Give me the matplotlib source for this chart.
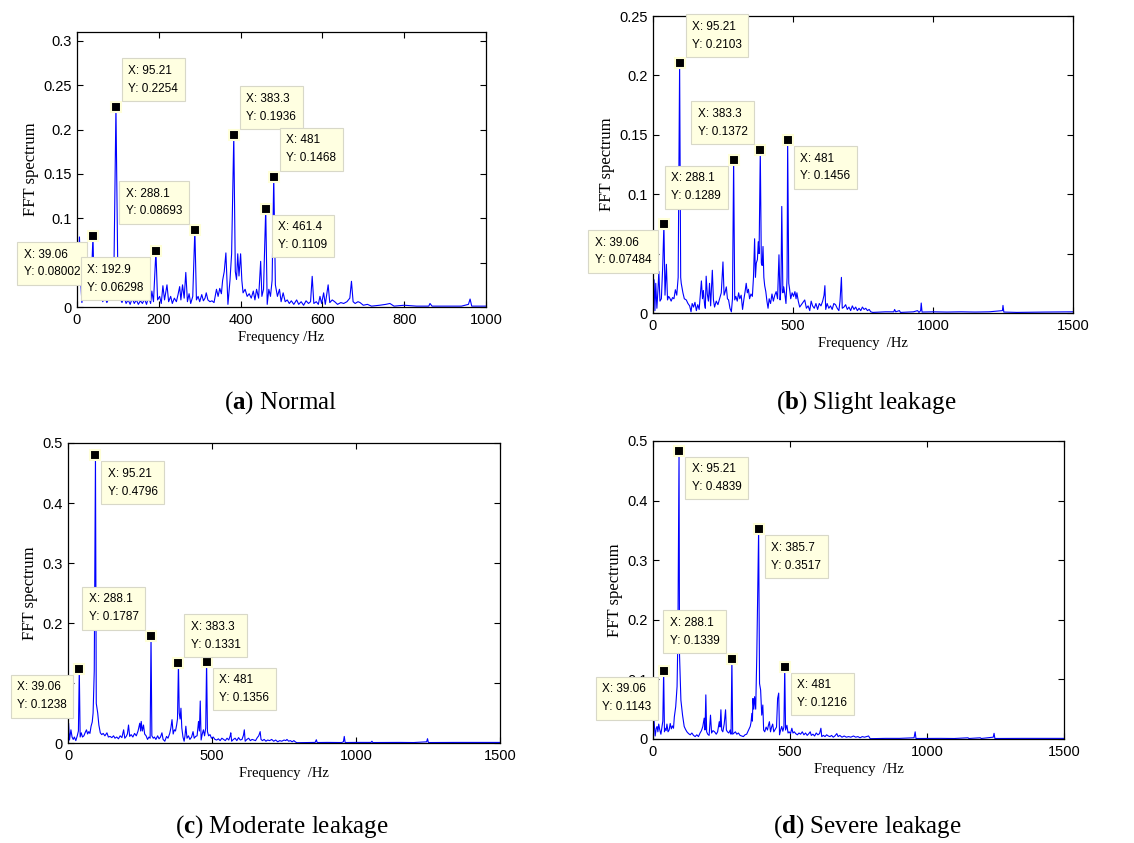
import matplotlib
matplotlib.use("Agg")
import matplotlib.pyplot as plt
from matplotlib.ticker import FuncFormatter

plt.rcParams["mathtext.fontset"] = "custom"
plt.rcParams["mathtext.rm"] = "Liberation Serif"
plt.rcParams["mathtext.bf"] = "Liberation Serif:bold"

# ---- spectrum (a) Normal ----
freq_a = [0, 3, 6, 9, 12, 15, 20, 25, 30, 34, 39.06, 42, 48, 53, 58, 63, 68, 73, 78, 84, 90, 95.21,
          100, 105, 110, 115, 120, 125, 130, 135, 140, 145, 150, 155, 160, 165, 170, 175, 180, 183, 187,
          192.9, 197, 202, 206, 210, 214, 220, 224, 229, 233, 238, 243, 247, 251, 254, 258, 262, 266, 270,
          274, 278, 283, 288.1, 292, 296, 300, 305, 309, 313, 316, 320, 325, 330, 335, 341, 345, 349, 353,
          356, 360, 364, 369, 374, 378, 383.3, 387, 390, 393, 396, 400, 403, 406, 411, 416, 421, 426, 431,
          435, 439, 444, 449, 452, 456, 461.4, 465, 469, 473, 477, 481, 485, 490, 495, 499, 504, 509, 514,
          519, 524, 530, 537, 542, 548, 554, 560, 566, 571, 575, 579, 585, 590, 594, 598, 603, 607, 614,
          618, 624, 630, 637, 645, 652, 660, 667, 671, 675, 680, 687, 692, 700, 710, 720, 740, 755, 765,
          775, 800, 830, 860, 863, 868, 900, 940, 957, 961, 965, 1000]
amp_a = [0.020, 0.045, 0.079, 0.030, 0.005, 0.020, 0.012, 0.015, 0.010, 0.018, 0.08002, 0.012, 0.020,
         0.008, 0.015, 0.006, 0.012, 0.005, 0.010, 0.008, 0.030, 0.2254,
         0.030, 0.010, 0.005, 0.012, 0.004, 0.008, 0.003, 0.010, 0.004, 0.008, 0.003, 0.007, 0.004, 0.009,
         0.003, 0.012, 0.004, 0.018, 0.006,
         0.06298, 0.008, 0.012, 0.004, 0.024, 0.008, 0.025, 0.006, 0.012, 0.004, 0.010, 0.006, 0.014, 0.023,
         0.008, 0.025, 0.010, 0.039, 0.006,
         0.015, 0.004, 0.012, 0.08693, 0.008, 0.012, 0.006, 0.014, 0.007, 0.010, 0.016, 0.008, 0.006, 0.007,
         0.005, 0.020, 0.012, 0.021, 0.015,
         0.030, 0.040, 0.061, 0.003, 0.030, 0.060, 0.1936, 0.040, 0.031, 0.060, 0.035, 0.060, 0.030, 0.016,
         0.020, 0.012, 0.015, 0.010, 0.018,
         0.008, 0.020, 0.010, 0.0515, 0.012, 0.020, 0.1109, 0.003, 0.020, 0.012, 0.030, 0.1468, 0.025, 0.012,
         0.020, 0.006, 0.016, 0.006, 0.008,
         0.004, 0.007, 0.003, 0.008, 0.003, 0.006, 0.002, 0.007, 0.004, 0.006, 0.0346, 0.004, 0.006, 0.003,
         0.012, 0.004, 0.016, 0.003, 0.025,
         0.005, 0.008, 0.006, 0.003, 0.005, 0.004, 0.006, 0.010, 0.029, 0.006, 0.004, 0.006, 0.005, 0.002,
         0.003, 0.001, 0.002, 0.003, 0.004,
         0.001, 0.002, 0.001, 0.001, 0.004, 0.001, 0.001, 0.001, 0.003, 0.009, 0.001, 0.001]
peak_x_a = [39.06, 95.21, 192.9, 288.1, 383.3, 461.4, 481]
peak_y_a = [0.08002, 0.2254, 0.06298, 0.08693, 0.1936, 0.1109, 0.1468]

# ---- spectrum (b) Slight leakage ----
freq_b = [0, 4, 7, 10, 14, 18, 21, 25, 30, 35, 39.06, 43, 48, 52, 56, 60, 65, 70, 75, 80, 85, 90, 95.21,
          99, 101, 105, 107, 112, 119, 125, 131, 136, 140, 145, 150, 155, 160, 165, 169, 173, 177, 180, 184,
          187, 190, 194, 198, 202, 206, 212, 216, 220, 226, 232, 238, 244, 250, 254, 258, 262, 266, 270, 275,
          280, 284, 288.1, 292, 296, 301, 306, 310, 315, 320, 325, 329, 333, 337, 341, 345, 350, 355, 359,
          363, 366, 369, 373, 376, 379, 383.3, 387, 390, 393, 396, 399, 403, 407, 411, 415, 420, 425, 430,
          435, 440, 445, 450, 454, 457, 460, 464, 467, 471, 475, 479, 481, 485, 488, 492, 497, 502, 507, 511,
          514, 519, 524, 530, 536, 542, 548, 554, 560, 565, 570, 576, 582, 588, 594, 600, 606, 611, 614, 617,
          622, 628, 634, 640, 646, 652, 658, 664, 668, 673, 676, 682, 688, 694, 700, 706, 712, 718, 724, 730,
          736, 742, 748, 754, 760, 766, 772, 778, 785, 830, 860, 863, 867, 880, 884, 930, 945, 950, 956, 958,
          961, 1000, 1050, 1100, 1150, 1200, 1248, 1250, 1253, 1300, 1400, 1500]
amp_b = [0.005, 0.028, 0.002, 0.025, 0.004, 0.020, 0.035, 0.010, 0.012, 0.040, 0.07484, 0.015, 0.041,
         0.011, 0.014, 0.0126, 0.010, 0.013, 0.012, 0.0196, 0.015, 0.030, 0.2103,
         0.030, 0.025, 0.020, 0.017, 0.012, 0.011, 0.008, 0.006, 0.001, 0.008, 0.005, 0.009, 0.002, 0.007,
         0.003, 0.015, 0.027, 0.012, 0.019, 0.008,
         0.004, 0.031, 0.016, 0.010, 0.025, 0.006, 0.036, 0.011, 0.005, 0.010, 0.007, 0.012, 0.017, 0.043,
         0.015, 0.018, 0.022, 0.012, 0.011, 0.004,
         0.001, 0.012, 0.1289, 0.011, 0.014, 0.010, 0.017, 0.012, 0.015, 0.003, 0.012, 0.018, 0.025, 0.017,
         0.020, 0.012, 0.016, 0.014, 0.030,
         0.0625, 0.030, 0.042, 0.045, 0.060, 0.050, 0.1372, 0.042, 0.040, 0.056, 0.030, 0.023, 0.018, 0.010,
         0.004, 0.012, 0.008, 0.016, 0.010,
         0.015, 0.018, 0.012, 0.049, 0.011, 0.020, 0.0897, 0.017, 0.022, 0.016, 0.008, 0.030, 0.1456, 0.025,
         0.020, 0.012, 0.017, 0.014, 0.018, 0.012,
         0.017, 0.010, 0.005, 0.007, 0.009, 0.011, 0.004, 0.006, 0.002, 0.010, 0.006, 0.004, 0.008, 0.003,
         0.008, 0.006, 0.010, 0.015, 0.023, 0.003,
         0.008, 0.004, 0.006, 0.003, 0.008, 0.007, 0.004, 0.002, 0.010, 0.030, 0.004, 0.005, 0.007, 0.003,
         0.005, 0.002, 0.006, 0.003, 0.005, 0.002,
         0.004, 0.002, 0.005, 0.003, 0.004, 0.002, 0.003, 0.001, 0.0005, 0.001, 0.001, 0.003, 0.001, 0.002,
         0.0005, 0.001, 0.002, 0.0005, 0.002, 0.0084,
         0.0008, 0.001, 0.0008, 0.001, 0.0008, 0.001, 0.002, 0.0064, 0.0008, 0.0005, 0.0008, 0.001]
peak_x_b = [39.06, 95.21, 288.1, 383.3, 481]
peak_y_b = [0.07484, 0.2103, 0.1289, 0.1372, 0.1456]

# ---- spectrum (c) Moderate leakage ----
freq_c = [0, 2, 5, 10, 14, 18, 22, 27, 32, 36, 39.06, 42, 46, 50, 55, 60, 64, 68, 72, 76, 80, 84, 87, 91,
          95.21, 98, 103, 107, 112, 117, 122, 128, 135, 140, 146, 152, 158, 163, 169, 175, 181, 187, 193, 197,
          202, 206, 210, 214, 219, 225, 231, 237, 243, 249, 252, 254, 258, 262, 266, 271, 276, 281, 285,
          288.1, 291, 296, 300, 305, 311, 316, 321, 326, 330, 336, 342, 347, 353, 357, 361, 365, 369, 373,
          377, 380, 383.3, 386, 389, 392, 395, 399, 403, 406, 409, 413, 418, 423, 429, 434, 438, 443, 448,
          453, 456, 459, 462, 466, 470, 474, 478, 481, 484, 488, 493, 498, 504, 510, 516, 522, 528, 534, 540,
          546, 552, 558, 563, 565, 568, 574, 580, 586, 592, 598, 604, 609, 612, 615, 621, 627, 633, 639, 645,
          651, 657, 662, 667, 670, 675, 681, 687, 693, 700, 707, 714, 721, 728, 735, 742, 750, 756, 760, 766,
          772, 778, 784, 789, 794, 850, 858, 862, 865, 900, 950, 956, 959, 962, 1000, 1052, 1055, 1058, 1150,
          1200, 1245, 1248, 1251, 1350, 1500]
amp_c = [0.010, 0.033, 0.005, 0.022, 0.010, 0.006, 0.010, 0.004, 0.012, 0.020, 0.1238, 0.010, 0.017,
         0.010, 0.012, 0.018, 0.022, 0.015, 0.019, 0.016, 0.028, 0.035, 0.050, 0.120,
         0.4796, 0.066, 0.050, 0.030, 0.017, 0.014, 0.016, 0.012, 0.017, 0.010, 0.011, 0.009, 0.012, 0.008,
         0.010, 0.007, 0.012, 0.009, 0.022, 0.008,
         0.011, 0.015, 0.030, 0.011, 0.014, 0.010, 0.016, 0.012, 0.020, 0.033, 0.020, 0.036, 0.020, 0.030,
         0.015, 0.012, 0.006, 0.010, 0.008,
         0.1787, 0.012, 0.008, 0.010, 0.006, 0.012, 0.007, 0.010, 0.017, 0.006, 0.003, 0.011, 0.008, 0.016,
         0.025, 0.039, 0.015, 0.022, 0.020,
         0.030, 0.040, 0.1331, 0.050, 0.040, 0.058, 0.025, 0.010, 0.003, 0.012, 0.028, 0.008, 0.012, 0.006,
         0.010, 0.019, 0.008, 0.011, 0.012,
         0.036, 0.020, 0.070, 0.005, 0.015, 0.022, 0.012, 0.025, 0.1356, 0.019, 0.012, 0.014, 0.008, 0.010,
         0.006, 0.005, 0.007, 0.004, 0.008, 0.006,
         0.004, 0.008, 0.005, 0.012, 0.017, 0.003, 0.006, 0.008, 0.004, 0.009, 0.005, 0.006, 0.013, 0.022,
         0.003, 0.006, 0.008, 0.004, 0.006, 0.005,
         0.004, 0.009, 0.012, 0.019, 0.006, 0.004, 0.006, 0.003, 0.005, 0.004, 0.006, 0.003, 0.005, 0.002,
         0.004, 0.003, 0.005, 0.004, 0.006, 0.003,
         0.004, 0.002, 0.004, 0.002, 0.0005, 0.001, 0.001, 0.0055, 0.0008, 0.001, 0.0008, 0.002, 0.011,
         0.0008, 0.001, 0.001, 0.003, 0.0008, 0.001,
         0.0008, 0.002, 0.0072, 0.0008, 0.001, 0.001]
peak_x_c = [39.06, 95.21, 288.1, 383.3, 481]
peak_y_c = [0.1238, 0.4796, 0.1787, 0.1331, 0.1356]

# ---- spectrum (d) Severe leakage ----
freq_d = [0, 3, 5, 8, 12, 15, 18, 21, 25, 29, 33, 36, 39.06, 42, 44, 48, 51, 55, 59, 63, 67, 71, 75, 78,
          83, 88, 91, 95.21, 97, 102, 108, 114, 119, 124, 130, 136, 142, 148, 154, 160, 166, 172, 177, 182,
          187, 190, 193, 196, 200, 205, 210, 214, 219, 225, 231, 236, 242, 245, 248, 251, 255, 260, 265, 268,
          272, 277, 282, 285, 288.1, 291, 296, 301, 306, 312, 318, 324, 330, 336, 342, 348, 352, 355, 358,
          361, 363, 365, 368, 371, 375, 379, 385.7, 389, 393, 397, 401, 404, 408, 413, 418, 421, 425, 429,
          433, 437, 441, 446, 451, 455, 459, 462, 466, 470, 474, 478, 481, 484, 489, 493, 497, 502, 507, 511,
          516, 521, 527, 533, 539, 545, 551, 557, 563, 569, 574, 578, 584, 590, 596, 602, 608, 613, 616, 622,
          628, 634, 640, 646, 652, 658, 664, 671, 676, 682, 690, 698, 706, 714, 722, 732, 740, 748, 756, 764,
          772, 780, 787, 793, 850, 900, 953, 957, 960, 1050, 1100, 1150, 1153, 1195, 1198, 1242, 1245, 1248,
          1350, 1500]
amp_d = [0.010, 0.030, 0.023, 0.005, 0.018, 0.021, 0.012, 0.025, 0.015, 0.008, 0.020, 0.030, 0.1143,
         0.012, 0.018, 0.014, 0.025, 0.012, 0.015, 0.026, 0.017, 0.022, 0.018, 0.037,
         0.054, 0.088, 0.170, 0.4839, 0.140, 0.065, 0.040, 0.021, 0.016, 0.012, 0.009, 0.007, 0.010, 0.006,
         0.004, 0.007, 0.004, 0.010, 0.014, 0.021,
         0.035, 0.015, 0.074, 0.012, 0.008, 0.006, 0.040, 0.010, 0.014, 0.012, 0.008, 0.012, 0.029, 0.020,
         0.049, 0.015, 0.012, 0.025, 0.049, 0.015,
         0.012, 0.010, 0.015, 0.008, 0.1339, 0.008, 0.010, 0.012, 0.008, 0.010, 0.006, 0.005, 0.004, 0.007,
         0.008, 0.014, 0.018, 0.021, 0.028,
         0.043, 0.030, 0.068, 0.050, 0.071, 0.050, 0.140, 0.3517, 0.093, 0.082, 0.040, 0.057, 0.015, 0.012,
         0.020, 0.015, 0.022, 0.029, 0.012,
         0.020, 0.025, 0.012, 0.016, 0.020, 0.068, 0.077, 0.007, 0.015, 0.021, 0.013, 0.020, 0.1216, 0.015,
         0.023, 0.010, 0.012, 0.009, 0.018, 0.010,
         0.012, 0.009, 0.007, 0.010, 0.008, 0.012, 0.007, 0.010, 0.006, 0.009, 0.012, 0.006, 0.008, 0.005,
         0.010, 0.007, 0.009, 0.018, 0.004, 0.006,
         0.004, 0.007, 0.005, 0.004, 0.006, 0.003, 0.005, 0.009, 0.004, 0.006, 0.003, 0.005, 0.003, 0.004,
         0.003, 0.005, 0.003, 0.004, 0.002, 0.004,
         0.003, 0.004, 0.005, 0.0005, 0.001, 0.001, 0.002, 0.012, 0.0008, 0.001, 0.0008, 0.002, 0.0008, 0.002,
         0.0008, 0.003, 0.0095, 0.0008,
         0.001, 0.001]
peak_x_d = [39.06, 95.21, 288.1, 385.7, 481]
peak_y_d = [0.1143, 0.4839, 0.1339, 0.3517, 0.1216]

captions = [r"($\mathbf{a}$) Normal", r"($\mathbf{b}$) Slight leakage",
            r"($\mathbf{c}$) Moderate leakage", r"($\mathbf{d}$) Severe leakage"]

# datatip box directions (right/left, up/down) for each peak
dirs_a = [(-1, -1), (1, 1), (-1, -1), (-1, 1), (1, 1), (1, -1), (1, 1)]
dirs_b = [(-1, -1), (1, 1), (-1, -1), (-1, 1), (1, -1)]
dirs_c = [(-1, -1), (1, -1), (-1, 1), (1, 1), (1, -1)]
dirs_d = [(-1, -1), (1, -1), (-1, 1), (1, -1), (1, -1)]

fig = plt.figure(figsize=(11.34, 8.43), dpi=100)

fmt = FuncFormatter(lambda v, p: "%g" % round(v, 4))


def panel(rect, freq, amp, px, py, dirs, xmax, ymax, xstep, ystep, xlabel):
    ax = fig.add_axes(rect)
    ax.plot(freq, amp, color="#0000FF", lw=0.8, zorder=2)
    ax.plot(px, py, "s", ms=7, mfc="black", mec="#FFFFD8", mew=1.5, zorder=3, clip_on=False)
    for x, y, (sx, sy) in zip(px, py, dirs):
        ax.annotate("X: %g\nY: %g" % (x, y), xy=(x, y), xytext=(9 * sx, 9 * sy),
                    textcoords="offset points",
                    ha="left" if sx > 0 else "right", va="bottom" if sy > 0 else "top",
                    multialignment="left",
                    fontsize=8.5, family="Liberation Sans", linespacing=1.65,
                    bbox=dict(boxstyle="square,pad=0.55", fc="#FFFFE1", ec="#D8D8C8", lw=0.8),
                    zorder=5, annotation_clip=False)
    ax.set_xlim(0, xmax)
    ax.set_ylim(0, ymax)
    ax.set_xticks([i * xstep for i in range(int(round(xmax / xstep)) + 1)])
    n = int(ymax / ystep + 1e-6)
    ax.set_yticks([i * ystep for i in range(n + 1)])
    ax.yaxis.set_major_formatter(fmt)
    ax.tick_params(direction="in", top=True, right=True, length=4, width=0.8,
                   labelsize=10.5, pad=4)
    for lab in ax.get_xticklabels() + ax.get_yticklabels():
        lab.set_family("Liberation Sans")
    for s in ax.spines.values():
        s.set_linewidth(0.9)
    ax.set_xlabel(xlabel, family="Liberation Serif", fontsize=10.5, labelpad=3)
    ax.set_ylabel("FFT spectrum", family="Liberation Serif", fontsize=12, labelpad=3)
    return ax


panel([0.0679, 0.6358, 0.3607, 0.3262], freq_a, amp_a, peak_x_a, peak_y_a, dirs_a,
      1000, 0.31, 200, 0.05, "Frequency /Hz")
panel([0.5758, 0.6287, 0.3704, 0.3523], freq_b, amp_b, peak_x_b, peak_y_b, dirs_b,
      1500, 0.25, 500, 0.05, "Frequency  /Hz")
panel([0.0600, 0.1186, 0.3810, 0.3559], freq_c, amp_c, peak_x_c, peak_y_c, dirs_c,
      1500, 0.5, 500, 0.1, "Frequency  /Hz")
panel([0.5758, 0.1234, 0.3624, 0.3535], freq_d, amp_d, peak_x_d, peak_y_d, dirs_d,
      1500, 0.5, 500, 0.1, "Frequency  /Hz")

cap_pos = [(281, 403), (866, 403), (282, 827), (867, 827)]
for (cx, cy), txt in zip(cap_pos, captions):
    fig.text(cx / 1134, 1 - cy / 843, txt, ha="center", va="center",
             family="Liberation Serif", fontsize=18)

fig.savefig("out.png", dpi=100)
